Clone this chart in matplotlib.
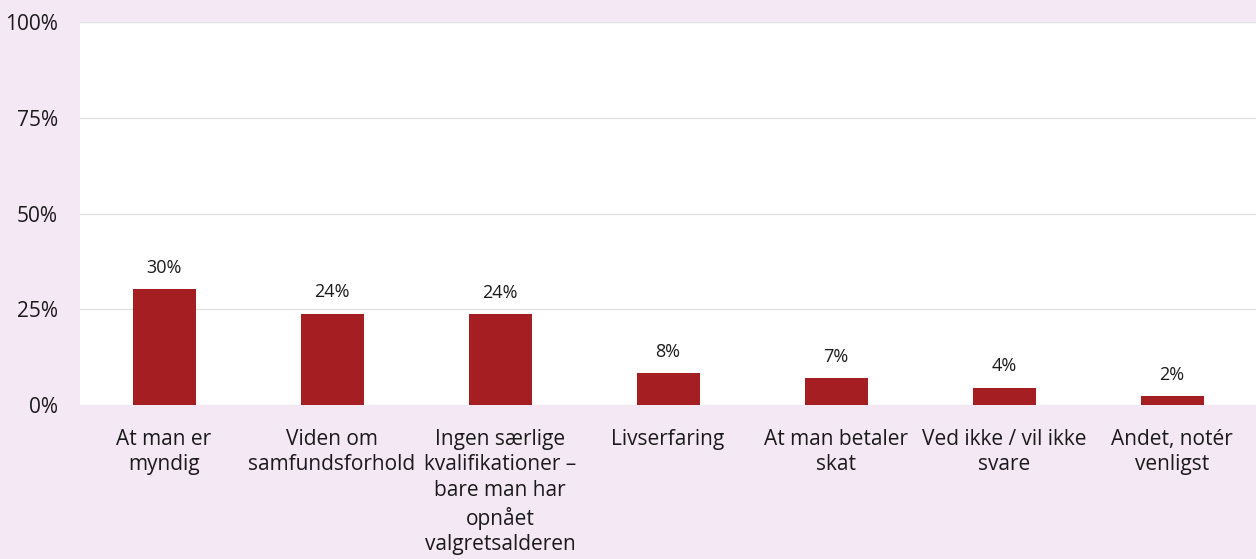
import matplotlib.pyplot as plt
from matplotlib.ticker import PercentFormatter

plt.rcParams['font.family'] = ['Open Sans', 'DejaVu Sans']

# data
categories = [
    "At man er\nmyndig",
    "Viden om\nsamfundsforhold",
    "Ingen særlige\nkvalifikationer –\nbare man har\nopnået\nvalgretsalderen",
    "Livserfaring",
    "At man betaler\nskat",
    "Ved ikke / vil ikke\nsvare",
    "Andet, notér\nvenligst",
]
values = [30.2, 23.8, 23.7, 8.3, 7.0, 4.5, 2.3]
labels = ["30%", "24%", "24%", "8%", "7%", "4%", "2%"]

bg = '#F4E8F5'
bar_color = '#A51E22'
text_color = '#1a1a1a'

fig = plt.figure(figsize=(12.56, 5.59), dpi=100, facecolor=bg)
ax = fig.add_axes([80 / 1256, 1 - 405 / 559, 1176 / 1256, 383 / 559])
ax.set_facecolor('white')

x = range(len(categories))
bars = ax.bar(x, values, width=0.375, color=bar_color, zorder=3)

for b, lab in zip(bars, labels):
    ax.annotate(lab, (b.get_x() + b.get_width() / 2, b.get_height()),
                xytext=(0, 9), textcoords='offset points',
                ha='center', va='bottom', fontsize=13, color=text_color)

ax.set_xlim(-0.5, len(categories) - 0.5)
ax.set_ylim(0, 100)
ax.set_yticks([0, 25, 50, 75, 100])
ax.yaxis.set_major_formatter(PercentFormatter(decimals=0))
ax.grid(axis='y', color='#E2E2E2', linewidth=1, zorder=0)

ax.set_xticks(list(x))
ax.set_xticklabels(categories, fontsize=15, color=text_color, linespacing=1.3, va='top')
ax.tick_params(axis='x', length=0, pad=17)
ax.tick_params(axis='y', length=0, pad=16, labelsize=15, labelcolor=text_color)

for s in ax.spines.values():
    s.set_visible(False)

fig.savefig('out.png', dpi=100, facecolor=bg)
